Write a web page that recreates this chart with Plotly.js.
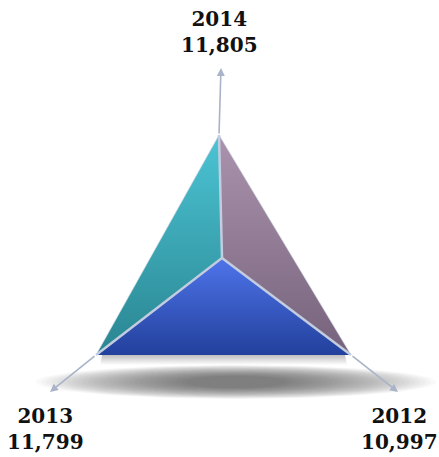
<!DOCTYPE html>
<html>
<head>
<meta charset="utf-8">
<script src="https://cdn.plot.ly/plotly-3.0.1.min.js"></script>
<style>html,body{margin:0;padding:0;background:#fff;}#chart{width:439px;height:457px;}</style>
</head>
<body>
<div id="chart"></div>
<script>
// ---- data ----
const years = ["2014", "2013", "2012"];
const values = [11805, 11799, 10997];
const valueLabels = ["11,805", "11,799", "10,997"];

// ---- layout constants (pixel space) ----
const W = 439, H = 457;
const center = [222, 258];
// direction vectors per axis (perspective), scaled by value / max value
const axisDirs = [[-3, -123], [-126, 97], [138.5, 104.1]];
const arrowTips = [[221, 68], [50, 392], [398, 392]];
const labelPos = [[219, 32], [45, 429], [399, 429]];
const faceColors = {
  left: ["#4cc4d4", "#2a8591"],
  right: ["#ab93ad", "#76627c"],
  bottom: ["#4f74ea", "#22409c"]
};
const edgeColor = "#c3cde0";
const arrowColor = "#a9b3c9";

const maxV = Math.max(...values);
const verts = values.map((v, i) => [center[0] + axisDirs[i][0] * v / maxV, center[1] + axisDirs[i][1] * v / maxV]);
const [vTop, vLeft, vRight] = verts;

function face(pts, cols, name) {
  const xs = pts.map(p => p[0]).concat([pts[0][0]]);
  const ys = pts.map(p => p[1]).concat([pts[0][1]]);
  const ymin = Math.min(...ys), ymax = Math.max(...ys);
  return {
    type: "scatter", mode: "lines", x: xs, y: ys, fill: "toself", name: name,
    line: {width: 0, color: "rgba(0,0,0,0)"},
    fillgradient: {type: "vertical", start: ymin, stop: ymax, colorscale: [[0, cols[0]], [1, cols[1]]]},
    hoverinfo: "skip", showlegend: false
  };
}

function ellipse(cx, cy, rx, ry, color) {
  const xs = [], ys = [];
  for (let k = 0; k <= 90; k++) {
    const t = 2 * Math.PI * k / 90;
    xs.push(cx + rx * Math.cos(t)); ys.push(cy + ry * Math.sin(t));
  }
  return {type: "scatter", mode: "lines", x: xs, y: ys, fill: "toself", fillcolor: color,
    line: {width: 0, color: "rgba(0,0,0,0)"}, hoverinfo: "skip", showlegend: false};
}
const shadow = [];
const baseY = vLeft[1];
const N = 30;
for (let k = 0; k < N; k++) {
  const f = k / (N - 1);
  shadow.push(ellipse(236, baseY + 27, 200 - 150 * f, 17 - 11 * f, "rgba(70,70,70,0.033)"));
}
// light bevel strip just beneath the base
shadow.push({type: "scatter", mode: "lines",
  x: [vLeft[0] + 6, vRight[0] - 6, vRight[0] - 4, vLeft[0] + 4, vLeft[0] + 6],
  y: [baseY, baseY, baseY + 10, baseY + 10, baseY], fill: "toself",
  fillgradient: {type: "vertical", start: baseY, stop: baseY + 10, colorscale: [[0, "rgba(190,190,190,1)"], [1, "rgba(255,255,255,1)"]]},
  line: {width: 0, color: "rgba(0,0,0,0)"}, hoverinfo: "skip", showlegend: false});

const faces = [
  face([center, vTop, vLeft], faceColors.left, "left"),
  face([center, vTop, vRight], faceColors.right, "right"),
  face([center, vLeft, vRight], faceColors.bottom, "bottom")
];

const edges = {
  type: "scatter", mode: "lines",
  x: [vTop[0], center[0], vLeft[0], null, center[0], vRight[0]],
  y: [vTop[1], center[1], vLeft[1], null, center[1], vRight[1]],
  line: {color: edgeColor, width: 2.5}, hoverinfo: "skip", showlegend: false
};
const outline = {
  type: "scatter", mode: "lines",
  x: [vLeft[0], vTop[0], vRight[0]],
  y: [vLeft[1], vTop[1], vRight[1]],
  line: {color: "rgba(200,210,225,0.6)", width: 1}, hoverinfo: "skip", showlegend: false
};

const annotations = [];
verts.forEach((v, i) => {
  annotations.push({
    x: arrowTips[i][0], y: arrowTips[i][1], ax: v[0], ay: v[1],
    xref: "x", yref: "y", axref: "x", ayref: "y", text: "",
    showarrow: true, arrowhead: 2, arrowsize: 1, arrowwidth: 1.6, arrowcolor: arrowColor
  });
  annotations.push({
    x: labelPos[i][0], y: labelPos[i][1], xref: "x", yref: "y", showarrow: false,
    text: "<b>" + years[i] + "</b><br><b>" + valueLabels[i] + "</b>",
    font: {family: "DejaVu Serif, serif", size: 20, color: "#111"},
    align: "center", yanchor: "middle", xanchor: "center"
  });
});

const layout = {
  width: W, height: H,
  margin: {l: 0, r: 0, t: 0, b: 0},
  paper_bgcolor: "#fff", plot_bgcolor: "#fff",
  xaxis: {range: [0, W], visible: false, fixedrange: true},
  yaxis: {range: [H, 0], visible: false, fixedrange: true},
  annotations: annotations,
  showlegend: false
};

Plotly.newPlot("chart", shadow.concat(faces, [outline, edges]), layout, {displayModeBar: false, staticPlot: true});
</script>
</body>
</html>
